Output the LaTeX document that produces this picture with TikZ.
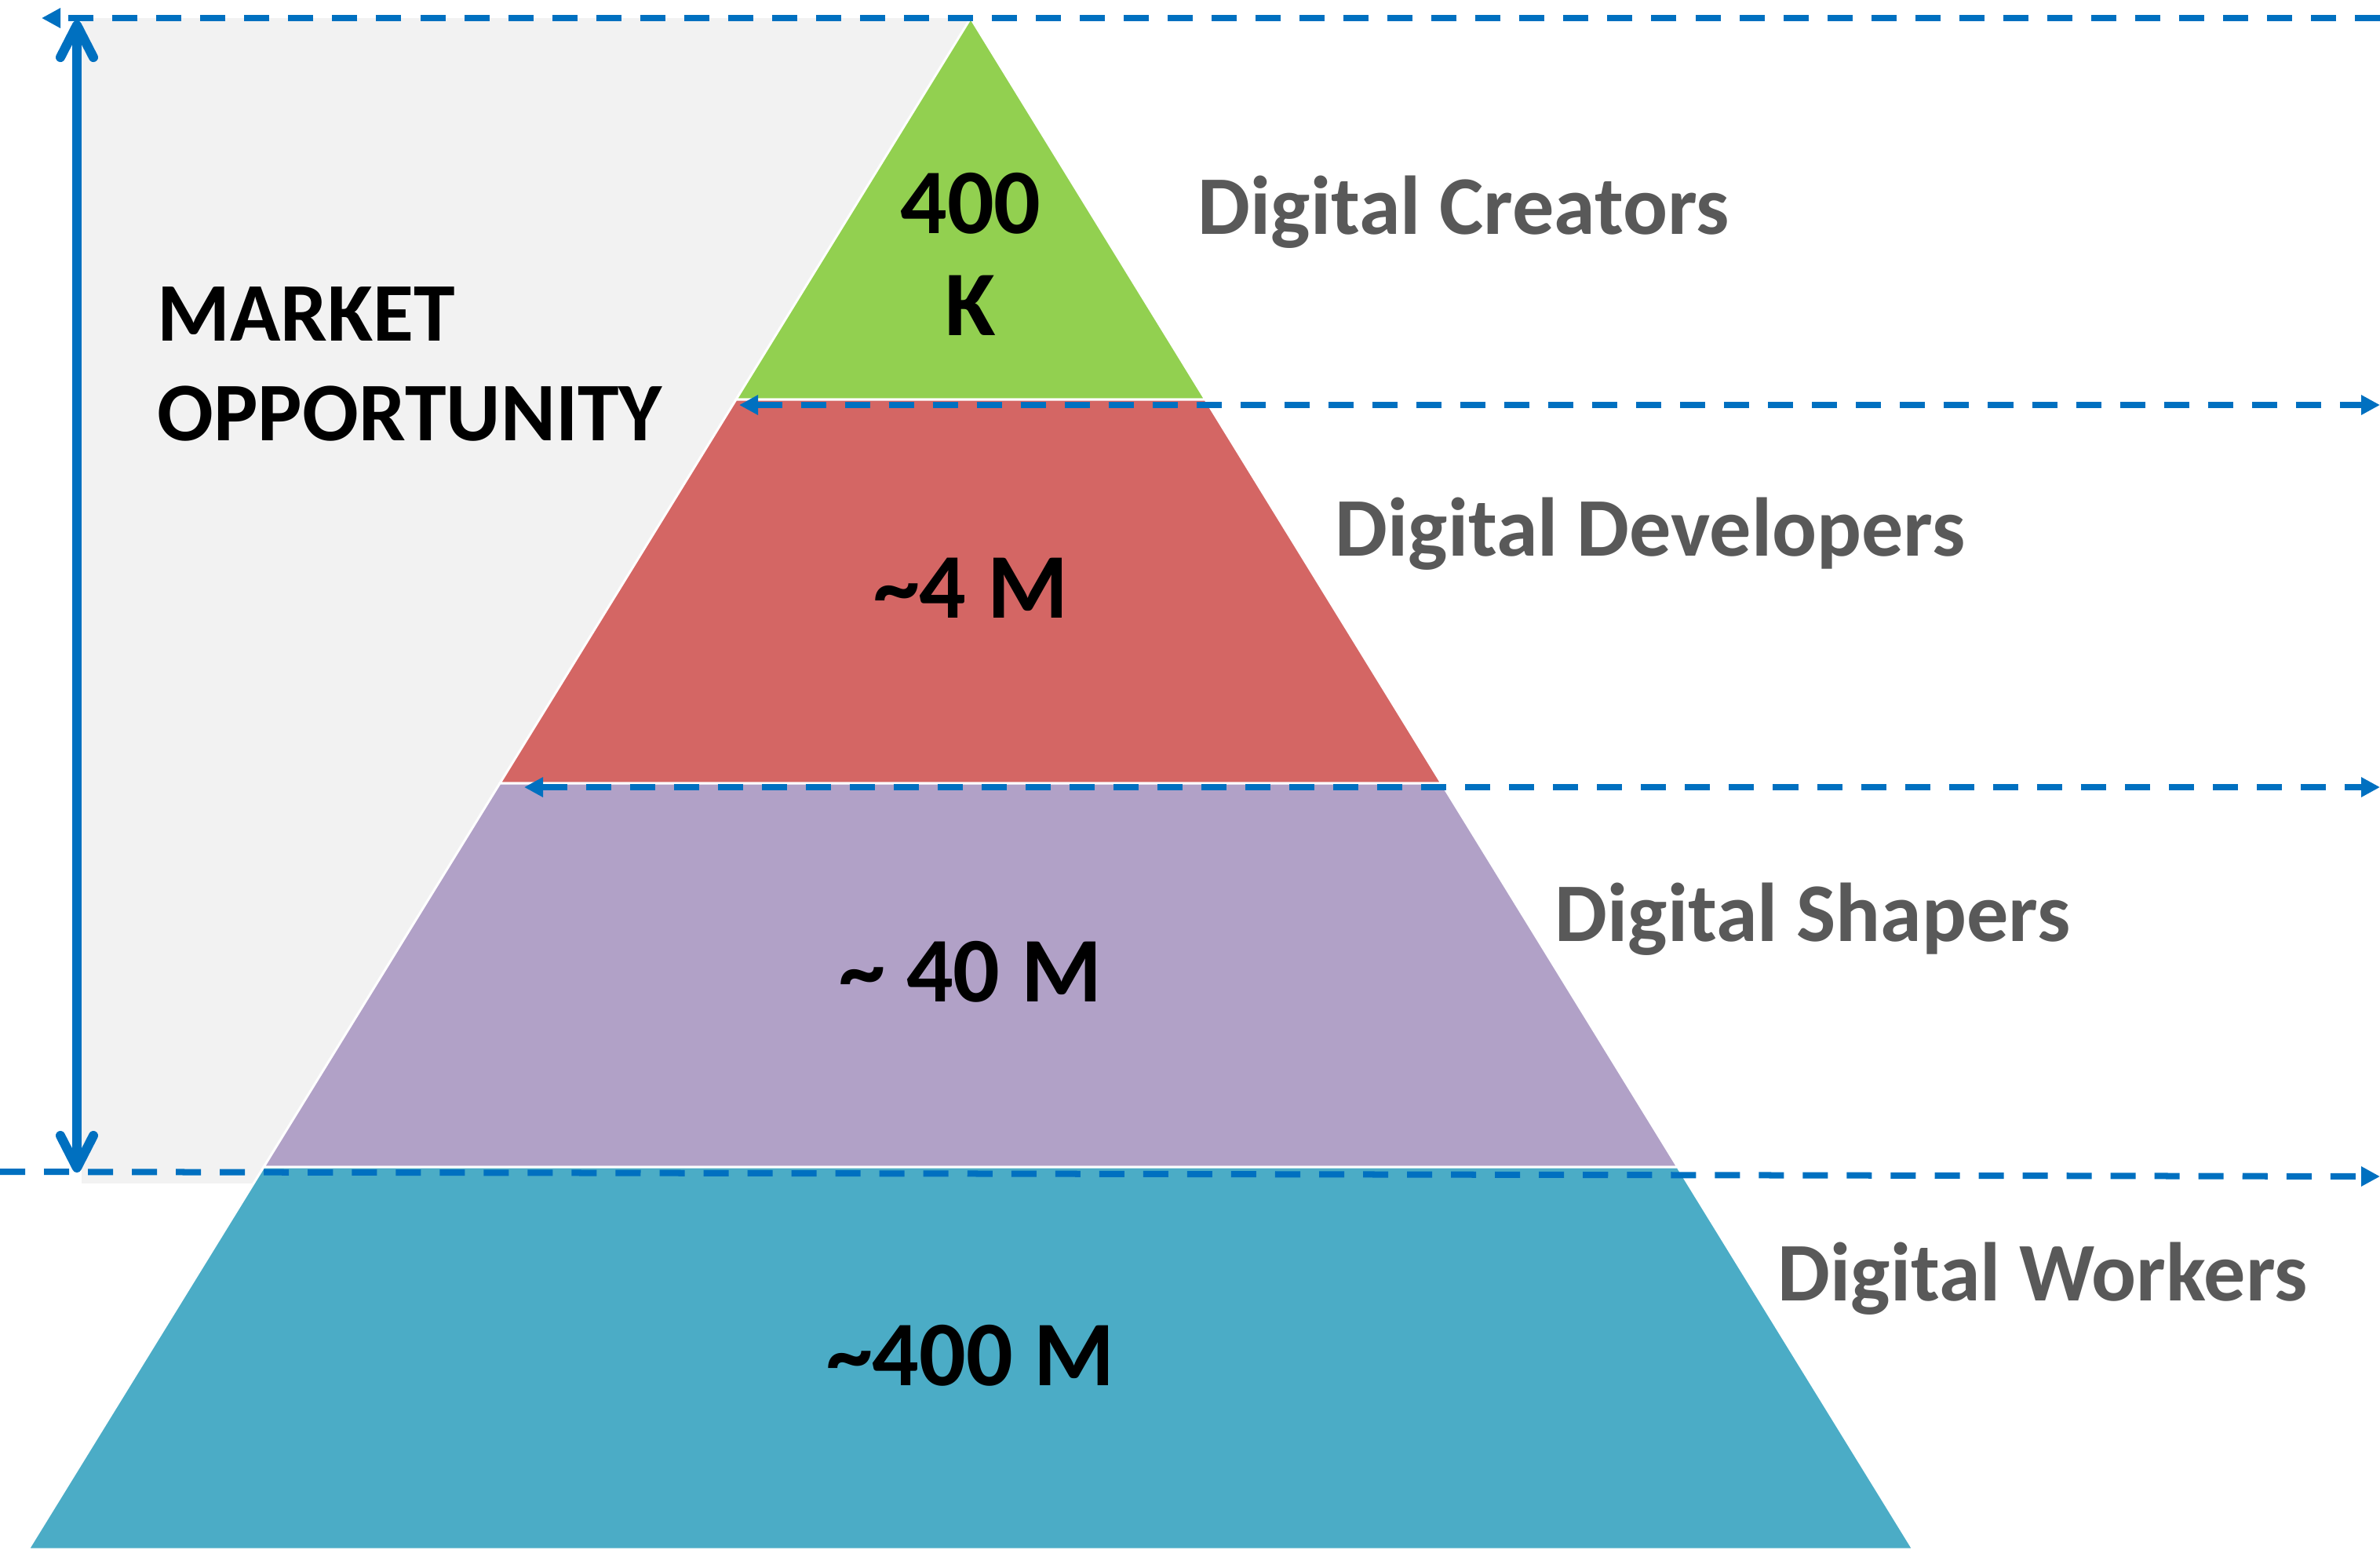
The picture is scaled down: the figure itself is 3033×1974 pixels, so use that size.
\documentclass[tikz,border=0pt]{standalone}
\usepackage{fontspec}
\setmainfont{Carlito}
\usetikzlibrary{arrows.meta}
\definecolor{backgray}{HTML}{F2F2F2}
\definecolor{creatorgreen}{HTML}{92D050}
\definecolor{developerred}{HTML}{D46664}
\definecolor{shaperpurple}{HTML}{B1A1C7}
\definecolor{workerteal}{HTML}{4BACC6}
\definecolor{guideblue}{HTML}{0070C0}
\definecolor{labelgray}{HTML}{595959}

\begin{document}
\begin{tikzpicture}[x=0.01cm,y=-0.01cm,
                    guide/.style={draw=guideblue,line width=0.08cm,dash pattern=on 0.32cm off 0.24cm},
                    tip/.style={-{Triangle[length=0.24cm,width=0.24cm]}},
                    both tips/.style={{Triangle[length=0.24cm,width=0.24cm]}-{Triangle[length=0.24cm,width=0.24cm]}},
                    tier/.style={draw=white,line width=0.03cm,line join=miter},
                    count/.style={font=\bfseries\fontsize{33.5}{36.7}\selectfont,inner sep=0pt,anchor=base,align=center},
                    group/.style={font=\bfseries\fontsize{30.2}{36}\selectfont,text=labelgray,inner sep=0pt,anchor=base west}]
\useasboundingbox (0,0) rectangle (3033,1974);
\fill[backgray] (104,23) rectangle (1237,1508);

\coordinate (apex) at (1237,23);
\coordinate (l1) at (938,509);  \coordinate (r1) at (1536,509);
\coordinate (l2) at (637,998);  \coordinate (r2) at (1837,998);
\coordinate (l3) at (336,1487); \coordinate (r3) at (2138,1487);
\coordinate (l4) at (36,1974);  \coordinate (r4) at (2438,1974);

\path[tier,fill=creatorgreen] (apex) -- (r1) -- (l1) -- cycle;
\path[tier,fill=developerred] (l1) -- (r1) -- (r2) -- (l2) -- cycle;
\path[tier,fill=shaperpurple] (l2) -- (r2) -- (r3) -- (l3) -- cycle;
\path[tier,fill=workerteal] (l3) -- (r3) -- (r4) -- (l4) -- cycle;

\coordinate (g1 west) at (53,23);    \coordinate (g1 east) at (3033,23);
\coordinate (g2 west) at (942,516);  \coordinate (g2 east) at (3033,516);
\coordinate (g3 west) at (668,1003); \coordinate (g3 east) at (3033,1003);
\coordinate (g4 west) at (0,1493);   \coordinate (g4 east) at (3033,1499);
\coordinate (span top) at (98,26);   \coordinate (span bottom) at (98,1494);

\draw[guide,tip] (g1 east) -- (g1 west);
\draw[guide,both tips] (g2 west) -- (g2 east);
\draw[guide,both tips] (g3 west) -- (g3 east);
\draw[guide,tip] (g4 west) -- (g4 east);
\draw[guideblue,line width=0.12cm,{Straight Barb[length=0.41cm,width=0.42cm,round]}-{Straight Barb[length=0.41cm,width=0.42cm,round]}]
  (span top) -- (span bottom);

\node[count] (creators n) at (1237,427) {400\\K};
\node[count] (developers n) at (1237,787) {\textasciitilde 4 M};
\node[count] (shapers n) at (1237,1276) {\textasciitilde{} 40 M};
\node[count] (workers n) at (1237,1765) {\textasciitilde 400 M};

\node[font=\bfseries\fontsize{30.2}{36}\selectfont,inner sep=0pt,anchor=base west,align=left] (market) at (200,561) {MARKET\\OPPORTUNITY};

\node[group] (creators) at (1526,298) {Digital Creators};
\node[group] (developers) at (1701,708) {Digital Developers};
\node[group] (shapers) at (1981,1199) {Digital Shapers};
\node[group] (workers) at (2265,1657) {Digital Workers};
\end{tikzpicture}
\end{document}
